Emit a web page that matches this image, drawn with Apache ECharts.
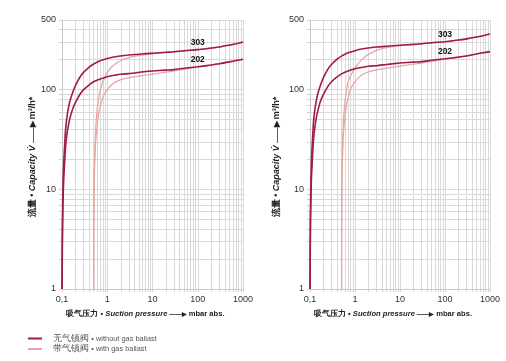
<!DOCTYPE html>
<html><head><meta charset="utf-8">
<script src="https://cdn.jsdelivr.net/npm/echarts@6/dist/echarts.min.js"></script>
<style>html,body{margin:0;padding:0;background:#fff}#c{width:506px;height:361px}</style>
</head><body><div id="c"></div>
<script>
// ---- data (suction pressure in mbar, capacity in m3/h) ----
const pDark = [0.1005, 0.101, 0.102, 0.104, 0.107, 0.11, 0.115, 0.12, 0.13, 0.14, 0.15, 0.17, 0.2, 0.25, 0.3, 0.4, 0.5, 0.7, 1, 1.5, 2, 3, 5, 7, 10, 20, 30, 50, 100, 200, 300, 500, 700, 1000];
const pLight = [0.5025, 0.505, 0.51, 0.52, 0.535, 0.55, 0.575, 0.6, 0.65, 0.7, 0.8, 0.9, 1, 1.2, 1.5, 2, 3, 5, 7, 10, 20, 30, 50, 100, 200, 300, 500, 700, 1000];

// left chart
const left303Dark  = [1, 2.2, 4.4, 8.5, 14.5, 20, 29, 40, 55, 67, 77, 92, 111, 134, 149, 168, 181, 195, 205, 214, 218, 223, 227, 230, 232, 237, 240, 246, 252, 262, 268, 280, 289, 300];
const left202Dark  = [1, 1.5, 2.9, 5.8, 9.8, 13.6, 19.6, 27, 37, 45, 52, 63, 75, 90, 100, 112, 120, 128, 135, 140, 143, 145, 149, 152, 154, 157, 159, 164, 170, 177, 182, 190, 196, 202];
const left303Light = [1, 4, 9, 17, 28, 38, 52, 64, 83, 99, 120, 136, 148, 165, 181, 196, 210, 220, 225, 229, 235, 238, 245, 251, 261, 267, 280, 289, 300];
const left202Light = [1, 3, 7, 13, 21, 28, 37, 45, 58, 68, 84, 93, 100, 110, 119, 126, 132, 137, 140, 143, 150, 154, 160, 168, 177, 182, 190, 196, 202];

// right chart
const right303Dark  = [1, 2.6, 5.3, 10, 17, 24, 35, 48, 66, 80, 92, 110, 133, 161, 179, 202, 217, 234, 246, 257, 262, 268, 273, 276, 279, 285, 289, 296, 303, 315, 323, 337, 348, 362];
const right202Dark  = [1, 1.8, 3.5, 7, 12, 16, 23.5, 32, 44, 54, 62, 76, 90, 108, 120, 134, 144, 154, 162, 168, 172, 174, 179, 182, 185, 189, 191, 197, 204, 212, 218, 228, 235, 241];
const right303Light = [1, 4.8, 11, 20, 34, 46, 62, 77, 100, 119, 138, 152, 164, 185, 205, 226, 248, 264, 271, 277, 283, 287, 295, 302, 314, 322, 337, 348, 362];
const right202Light = [1, 3.6, 8.4, 15.6, 25, 34, 44, 54, 70, 82, 101, 112, 120, 132, 143, 151, 158, 164, 168, 172, 180, 185, 192, 202, 212, 218, 228, 235, 241];

const xLabels = [0.1, 1, 10, 100, 1000];
const yLabels = [1, 10, 100, 500];
const xGrid = [0.1,0.2,0.3,0.4,0.5,0.6,0.7,0.8,0.9,1,2,3,4,5,6,7,8,9,10,20,30,40,50,60,70,80,90,100,200,300,400,500,600,700,800,900,1000];
const yGrid = [1,2,3,4,5,6,7,8,9,10,20,30,40,50,60,70,80,90,100,200,300,400,500];
const modelLabelAt = 100; // pressure where the model name is written

const nameDark = '无气镇阀 • without gas ballast';
const nameLight = '带气镇阀 • with gas ballast';
const DARK = '#9e1d48', LIGHT = '#e5a6a3';
const FONT = 'Liberation Sans, Arial, sans-serif';

const chart = echarts.init(document.getElementById('c'), null, {renderer: 'canvas'});

function rich(sz) {
  return {
    b: {fontSize: sz, fontWeight: 'bold', color: '#222', fontFamily: FONT},
    i: {fontSize: sz, fontWeight: 'bold', fontStyle: 'italic', color: '#222', fontFamily: FONT},
    a: {fontSize: sz - 1.2, fontWeight: 'bold', color: '#222', fontFamily: FONT}
  };
}

function xAxis(gi) {
  return {
    type: 'log', gridIndex: gi, min: 0.1, max: 1000, logBase: 10,
    name: '{b|吸气压力 • }{i|Suction pressure}{a| ——▶ }{b|mbar abs.}',
    nameLocation: 'middle', nameGap: 21,
    nameTextStyle: {rich: rich(7.6), padding: [0, 14, 0, 0]},
    axisLine: {show: true, lineStyle: {color: '#c8c8c8', width: 1}},
    axisTick: {show: true, length: 3, customValues: xGrid, lineStyle: {color: '#cfcfcf'}},
    axisLabel: {customValues: xLabels, fontSize: 9, color: '#333', fontFamily: FONT, margin: 6,
                formatter: v => String(v).replace('.', ',')},
    splitLine: {show: true, lineStyle: {color: '#d9d9d9', width: 1}}
  };
}
function yAxis(gi, gap) {
  return {
    type: 'log', gridIndex: gi, min: 1, max: 500, logBase: 10,
    name: '{b|流量 • }{i|Capacity V̇}{a| ——▶ }{b|m³/h*}',
    nameLocation: 'middle', nameGap: gap,
    nameTextStyle: {rich: rich(9), padding: [0, 5, 0, 0]},
    axisLine: {show: true, lineStyle: {color: '#c8c8c8', width: 1}},
    axisTick: {show: true, length: 3, customValues: yGrid, lineStyle: {color: '#cfcfcf'}},
    axisLabel: {customValues: yLabels, fontSize: 9, color: '#333', fontFamily: FONT, margin: 6},
    splitLine: {show: true, lineStyle: {color: '#d9d9d9', width: 1}}
  };
}
function line(gi, name, color, width, p, v, z, labelText) {
  const s = {type: 'line', name, xAxisIndex: gi, yAxisIndex: gi,
          data: p.map((x, i) => [x, v[i]]),
          showSymbol: false, symbol: 'none', smooth: 0.25, z,
          lineStyle: {color, width}, itemStyle: {color}, emphasis: {disabled: true}};
  if (labelText) {
    const k = p.indexOf(modelLabelAt);
    s.markPoint = {
      symbol: 'circle', symbolSize: 0, silent: true, animation: false,
      label: {show: true, position: 'top', distance: 3, formatter: labelText,
              fontSize: 8.5, fontWeight: 'bold', color: '#111', fontFamily: FONT},
      data: [{coord: [p[k], v[k]]}]
    };
  }
  return s;
}

chart.setOption({
  animation: false,
  grid: [
    {left: 62, right: 263, top: 20, bottom: 72},
    {left: 310, right: 16, top: 20, bottom: 72}
  ],
  xAxis: [xAxis(0), xAxis(1)],
  yAxis: [yAxis(0, 25), yAxis(1, 29)],
  legend: {
    orient: 'vertical', left: 28, top: 334, padding: 0, itemWidth: 14, itemHeight: 2, itemGap: 1.5,
    icon: 'rect', selectedMode: false,
    data: [{name: nameDark, itemStyle: {color: DARK}}, {name: nameLight, itemStyle: {color: LIGHT}}],
    formatter: n => { const k = n.indexOf('•'); return '{c|' + n.slice(0, k) + '}{l|' + n.slice(k) + '}'; },
    textStyle: {padding: [0, 0, 0, 6], rich: {
      c: {fontSize: 8.5, color: '#555', fontFamily: FONT},
      l: {fontSize: 7.4, color: '#555', fontFamily: FONT}
    }}
  },
  series: [
    line(0, nameLight, LIGHT, 1.2, pLight, left303Light, 2),
    line(0, nameLight, LIGHT, 1.2, pLight, left202Light, 2),
    line(0, nameDark, DARK, 1.6, pDark, left303Dark, 3, '303'),
    line(0, nameDark, DARK, 1.6, pDark, left202Dark, 3, '202'),
    line(1, nameLight, LIGHT, 1.2, pLight, right303Light, 2),
    line(1, nameLight, LIGHT, 1.2, pLight, right202Light, 2),
    line(1, nameDark, DARK, 1.6, pDark, right303Dark, 3, '303'),
    line(1, nameDark, DARK, 1.6, pDark, right202Dark, 3, '202')
  ]
});
</script></body></html>
